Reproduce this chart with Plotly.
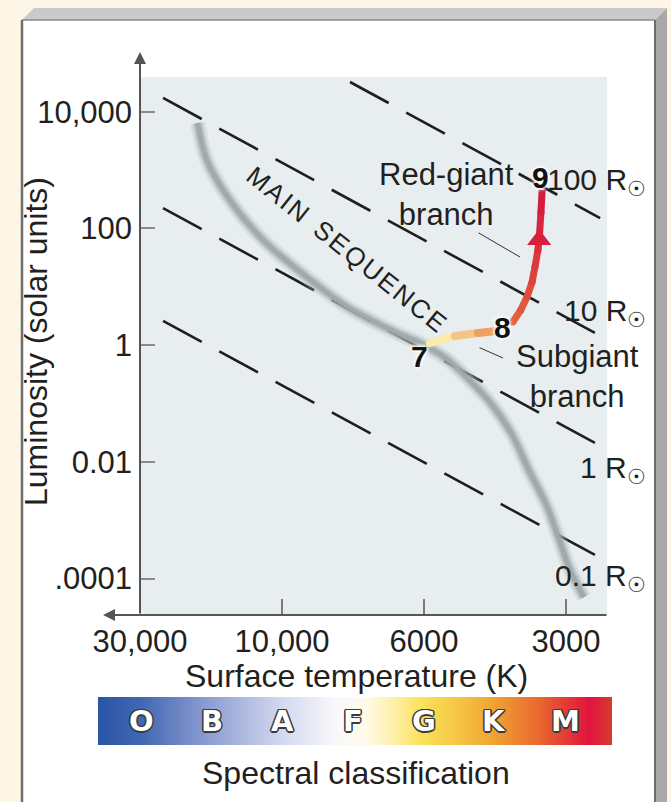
import numpy as np
import plotly.graph_objects as go

W, H = 671, 802

# ---------------- data ----------------
TEMP_TICKS = [30000, 10000, 6000, 3000]
TEMP_TICK_LABELS = ["30,000", "10,000", "6000", "3000"]
LUM_TICKS = [1e4, 1e2, 1, 1e-2, 1e-4]
LUM_TICK_LABELS = ["10,000", "100", "1", "0.01", ".0001"]

# main sequence band (temperature K, luminosity in solar units)
MS_TEMP = [19200, 17900, 15000, 11600, 9300, 7900, 6600, 6100, 5400, 4800,
           4300, 3900, 3600, 3300, 3100, 2940, 2750]
MS_LUM = [6400, 1500, 310, 64, 17, 4.5, 1.6, 1.1, 0.6, 0.25,
          0.094, 0.029, 0.0073, 0.0018, 0.00046, 0.00014, 0.000048]

# subgiant branch (7 -> 8)
SG_TEMP = [5830, 5160, 4610, 4200]
SG_LUM = [1.09, 1.44, 1.62, 1.75]

# red-giant branch (8 -> 9)
RG_TEMP = [3890, 3740, 3630, 3540, 3490, 3440, 3420, 3390, 3370]
RG_LUM = [2.5, 4.0, 6.7, 12, 22, 43, 64, 190, 460]
RG_ARROW_INDEX = 6

# lines of constant radius (end points)
RADIUS_NAMES = ["0.1 R", "1 R", "10 R", "100 R"]
RADIUS_TEMP = [[25100, 2605], [25100, 2605], [25100, 2605], [7830, 2540]]
RADIUS_LUM = [[2.6, 2.54e-4], [224, 0.0211], [17250, 1.62], [32400, 151]]

# evolutionary stage labels
STAGE_LABELS = ["7", "8", "9"]
STAGE_TEMP = [6090, 4100, 3390]
STAGE_LUM = [0.65, 2.05, 760]

SPECTRAL_CLASSES = ["O", "B", "A", "F", "G", "K", "M"]


# ---------------- schematic temperature scale ----------------
def temp_axis(T):
    """Schematic axis: tick temperatures equally spaced, log-interpolated between."""
    lt = -np.log10(np.atleast_1d(np.asarray(T, dtype=float)))
    k = -np.log10(np.asarray(TEMP_TICKS, dtype=float))
    pos = np.arange(len(k), dtype=float)
    out = np.interp(lt, k, pos)
    hi = lt > k[-1]
    out[hi] = pos[-1] + (lt[hi] - k[-1]) / (k[-1] - k[-2])
    lo = lt < k[0]
    out[lo] = (lt[lo] - k[0]) / (k[1] - k[0])
    return out


def pxx(x):
    return x / W


def pxy(y):
    return 1 - y / H


def hex2rgb(h):
    h = h.lstrip("#")
    return np.array([int(h[i:i + 2], 16) for i in (0, 2, 4)], dtype=float)


def blend(c0, c1, t):
    c = hex2rgb(c0) * (1 - t) + hex2rgb(c1) * t
    return "rgb(%d,%d,%d)" % tuple(np.round(c).astype(int))


fig = go.Figure()

# radius lines
for T, L in zip(RADIUS_TEMP, RADIUS_LUM):
    fig.add_trace(go.Scatter(x=temp_axis(T), y=L, mode="lines",
                             line=dict(color="#1e1e1e", width=2.6, dash="44px,20px"),
                             hoverinfo="skip"))

# main sequence (soft grey tube)
ms_x = temp_axis(MS_TEMP)
for w, c in [(15, "rgba(180,190,190,0.30)"), (10, "rgba(165,175,175,0.45)"),
             (6, "rgba(155,165,165,0.70)"), (3, "#a0aaaa")]:
    fig.add_trace(go.Scatter(x=ms_x, y=MS_LUM, mode="lines",
                             line=dict(color=c, width=w, shape="spline", smoothing=1.0),
                             hoverinfo="skip"))


def gradient_track(T, L, c0, c1, width):
    x = temp_axis(T)
    n = len(x) - 1
    for i in range(n):
        t = i / max(n - 1, 1)
        col = blend(c0, c1, t)
        fig.add_trace(go.Scatter(x=x[i:i + 2], y=L[i:i + 2], mode="lines",
                                 line=dict(color=col, width=width),
                                 hoverinfo="skip"))
        fig.add_trace(go.Scatter(x=x[i:i + 1], y=L[i:i + 1], mode="markers",
                                 marker=dict(color=col, size=width, line=dict(width=0)),
                                 hoverinfo="skip"))


gradient_track(SG_TEMP, SG_LUM, "#fbeaa8", "#eea060", 8)
gradient_track(RG_TEMP, RG_LUM, "#e2603e", "#d61c3e", 7)

# arrow head on the red-giant track
fig.add_trace(go.Scatter(x=temp_axis(RG_TEMP[RG_ARROW_INDEX]), y=[RG_LUM[RG_ARROW_INDEX]],
                         mode="markers",
                         marker=dict(symbol="triangle-up", size=21, color="#d8203e",
                                     line=dict(width=0)),
                         hoverinfo="skip"))

# spectral colour bar (colorbar of an empty trace)
SPECTRAL_SCALE = [[0.00, "#2a55a6"], [0.08, "#3e66b2"], [0.21, "#8b9bd1"],
                  [0.36, "#d3d9ef"], [0.46, "#f8f8fb"], [0.52, "#fffbea"],
                  [0.57, "#fff1ae"], [0.63, "#f9e25a"], [0.70, "#f6c644"],
                  [0.77, "#f0a234"], [0.86, "#e8672d"], [0.955, "#e0143e"],
                  [1.00, "#d63c2f"]]
fig.add_trace(go.Scatter(x=[None], y=[None], mode="markers",
                         marker=dict(color=[0.5], cmin=0, cmax=1, colorscale=SPECTRAL_SCALE,
                                     showscale=True,
                                     colorbar=dict(orientation="h", x=pxx(355), xanchor="center",
                                                   y=pxy(697), yanchor="top",
                                                   len=514, lenmode="pixels",
                                                   thickness=48, thicknessmode="pixels",
                                                   outlinewidth=0, showticklabels=False,
                                                   ticks="", xpad=0, ypad=0)),
                         hoverinfo="skip"))

# ---------------- frame / background shapes ----------------
def path(points):
    return "M " + " L ".join("%f,%f" % (pxx(a), pxy(b)) for a, b in points) + " Z"


shapes = [
    dict(type="rect", xref="paper", yref="paper", x0=pxx(22), x1=pxx(655), y0=0, y1=pxy(20),
         fillcolor="white", line=dict(width=0), layer="below"),
    dict(type="rect", xref="paper", yref="paper", x0=pxx(140), x1=pxx(607), y0=pxy(615),
         y1=pxy(77), fillcolor="#e8eef0", line=dict(width=0), layer="below"),
    dict(type="path", xref="paper", yref="paper",
         path=path([(22, 20), (34, 8), (667, 8), (655, 20)]),
         fillcolor="#cacaca", line=dict(width=0), layer="below"),
    dict(type="path", xref="paper", yref="paper",
         path=path([(655, 20), (667, 8), (667, 802), (655, 802)]),
         fillcolor="#a9a9a9", line=dict(width=0), layer="below"),
    dict(type="line", xref="paper", yref="paper", x0=pxx(22), x1=pxx(655), y0=pxy(20), y1=pxy(20),
         line=dict(color="#8a8a8a", width=1.5), layer="below"),
    dict(type="line", xref="paper", yref="paper", x0=pxx(655), x1=pxx(655), y0=0, y1=pxy(20),
         line=dict(color="#6e6e6e", width=2), layer="below"),
    dict(type="line", xref="paper", yref="paper", x0=pxx(22), x1=pxx(22), y0=0, y1=pxy(20),
         line=dict(color="#6e6e6e", width=2.5), layer="below"),
]

# ---------------- annotations ----------------
ann = []


def label(x, y, text, size=29, **kw):
    d = dict(xref="paper", yref="paper", x=pxx(x), y=pxy(y), text=text, showarrow=False,
             xanchor=kw.pop("xanchor", "center"), yanchor=kw.pop("yanchor", "middle"),
             font=kw.pop("font", dict(size=size)))
    d.update(kw)
    ann.append(d)


# axis lines with arrows
ann.append(dict(xref="paper", yref="paper", x=pxx(140), y=pxy(52), ax=0, ay=615 - 52,
                text="", showarrow=True, arrowhead=2, arrowsize=1.2, arrowwidth=2,
                arrowcolor="#555555"))
ann.append(dict(xref="paper", yref="paper", x=pxx(103), y=pxy(615), ax=608 - 103, ay=0,
                text="", showarrow=True, arrowhead=2, arrowsize=1.2, arrowwidth=2,
                arrowcolor="#555555"))

# axis titles
label(356, 676, "Surface temperature (K)", size=32)
label(36, 342, "Luminosity (solar units)", size=32, textangle=-90)
label(356, 773, "Spectral classification", size=32)

# spectral letters
outline = ("-1px -1px 0 #3a3a3a, 1px -1px 0 #3a3a3a, -1px 1px 0 #3a3a3a, 1px 1px 0 #3a3a3a, "
           "0 1.5px 0 #3a3a3a, 0 -1.5px 0 #3a3a3a, 1.5px 0 0 #3a3a3a, -1.5px 0 0 #3a3a3a")
n_cls = len(SPECTRAL_CLASSES)
for i, s in enumerate(SPECTRAL_CLASSES):
    xc = 141 + i * (565 - 141) / (n_cls - 1)
    label(xc, 721, "<b>%s</b>" % s,
          font=dict(size=29, color="white", family="DejaVu Sans", shadow=outline))

# region labels
label(446, 194, "Red-giant<br>branch", size=31, align="center")
label(577, 376, "Subgiant<br>branch", size=31, align="center")
ann.append(dict(xref="paper", yref="paper", x=pxx(520), y=pxy(257), ax=-43, ay=-25, text="",
                showarrow=True, arrowhead=0, arrowwidth=1, arrowcolor="#333333"))
ann.append(dict(xref="paper", yref="paper", x=pxx(503), y=pxy(358), ax=-25, ay=-11, text="",
                showarrow=True, arrowhead=0, arrowwidth=1, arrowcolor="#333333"))

ms_text = "\u200a".join(list("MAIN")) + "  " + "\u200a".join(list("SEQUENCE"))
label(346, 249, ms_text, size=26, textangle=38.7)

# radius labels
RADIUS_LABEL_Y = [573, 465, 308, 177]
for name, yy in zip(RADIUS_NAMES, RADIUS_LABEL_Y):
    label(648, yy + 4, name + "<sub>\u2609</sub>", size=30, xanchor="right")

# stage numbers
glow = "0 0 3px #ffffff, 0 0 3px #ffffff, 0 0 4px #ffffff, 0 0 5px #ffffff"
for lab, T, L in zip(STAGE_LABELS, STAGE_TEMP, STAGE_LUM):
    ann.append(dict(x=float(temp_axis(T)[0]), y=np.log10(L), xref="x", yref="y",
                    text="<b>%s</b>" % lab, showarrow=False,
                    font=dict(size=30, color="#111111", shadow=glow)))

fig.update_layout(
    width=W, height=H,
    margin=dict(l=0, r=0, t=0, b=0, autoexpand=False),
    paper_bgcolor="#fdf5e6",
    plot_bgcolor="rgba(0,0,0,0)",
    showlegend=False,
    font=dict(family="Liberation Sans, Arial, sans-serif", size=29, color="#231f20"),
    shapes=shapes,
    annotations=ann,
    xaxis=dict(domain=[pxx(140), pxx(605)], range=[0, (605 - 140) / 142.0],
               tickvals=list(temp_axis(TEMP_TICKS)), ticktext=TEMP_TICK_LABELS,
               showline=False, showgrid=False, zeroline=False, automargin=False,
               ticks="inside", ticklen=16, tickwidth=2, tickcolor="#7a7a7a",
               ticklabelstandoff=5, tickfont=dict(size=31)),
    yaxis=dict(domain=[pxy(615), pxy(78)], type="log", range=[-4.624, 4.579],
               tickvals=LUM_TICKS, ticktext=LUM_TICK_LABELS,
               showline=False, showgrid=False, zeroline=False, automargin=False,
               ticks="inside", ticklen=15, tickwidth=2, tickcolor="#8a8a8a",
               ticklabelstandoff=7, tickfont=dict(size=31)),
)

fig.write_html("out.html", config={"displayModeBar": False},
               post_script="document.body.style.margin='0px';document.body.style.overflow='hidden';")
